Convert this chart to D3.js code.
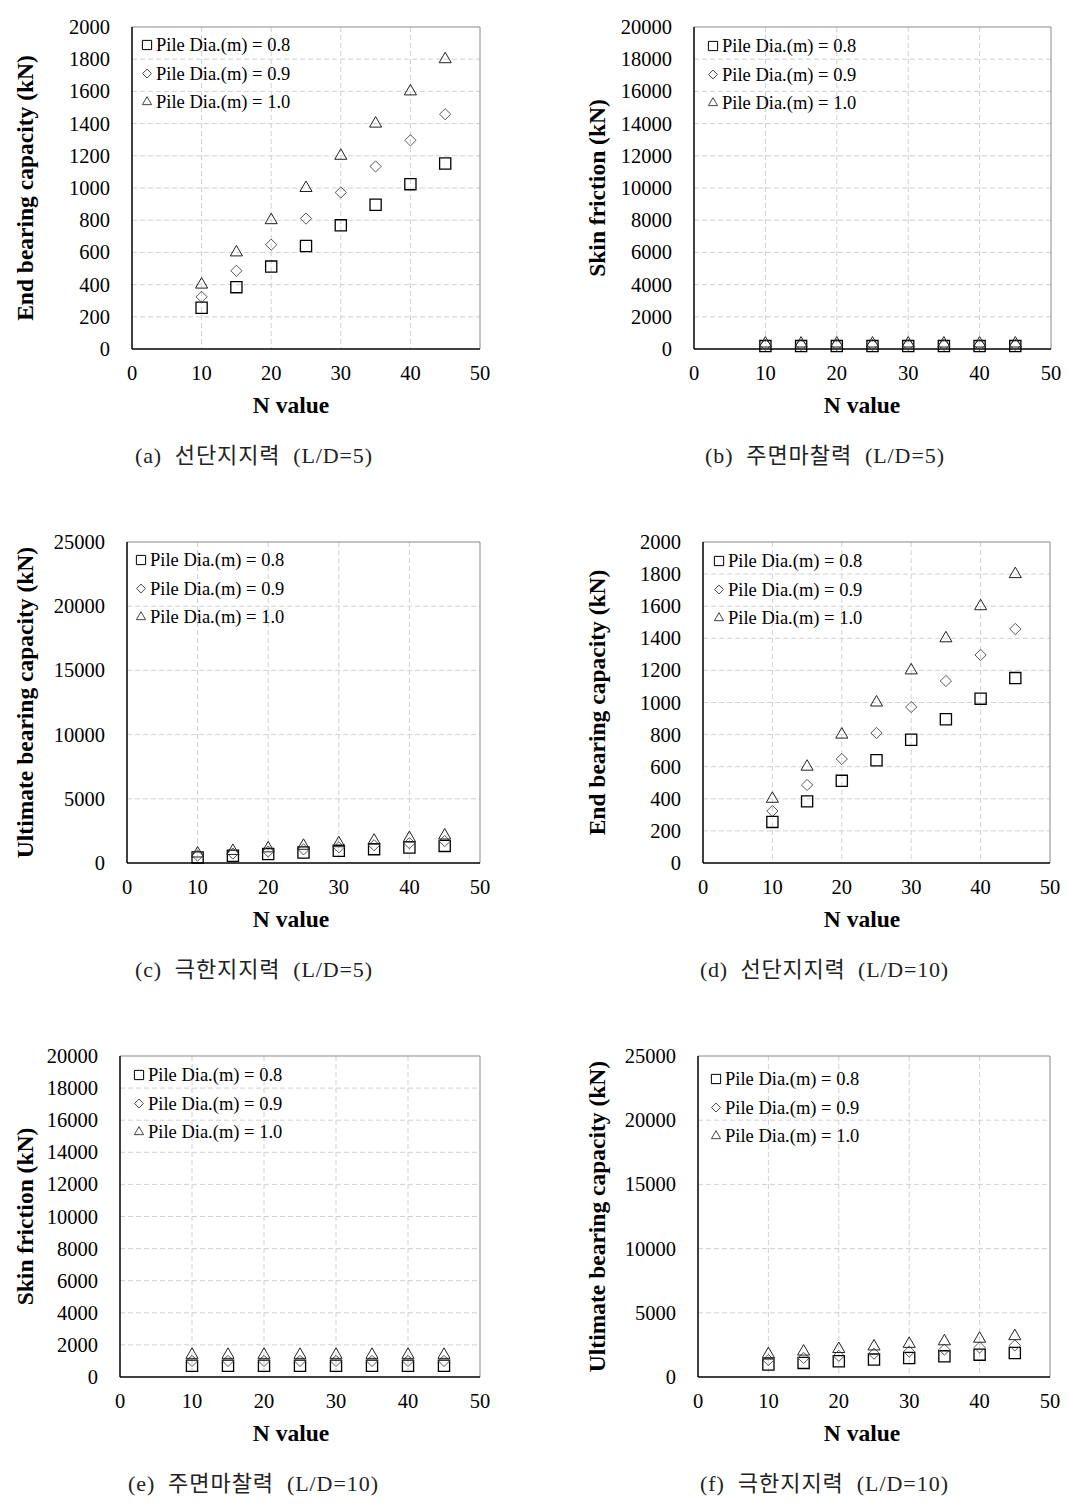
<!DOCTYPE html>
<html><head><meta charset="utf-8">
<script src="https://cdn.jsdelivr.net/npm/d3@7"></script>
<style>
body{margin:0;background:#fff;}
svg{display:block;}
</style></head>
<body>
<script>
// ---- data ----
const nValues = [10, 15, 20, 25, 30, 35, 40, 45];
const seriesLabels = ["Pile Dia.(m) = 0.8", "Pile Dia.(m) = 0.9", "Pile Dia.(m) = 1.0"];
const xTicks = [0, 10, 20, 30, 40, 50];

// End bearing capacity (same for L/D=5 and L/D=10)
const endD08 = [256, 384, 512, 640, 768, 896, 1024, 1152];
const endD09 = [324, 486, 648, 810, 972, 1134, 1296, 1458];
const endD10 = [400, 600, 800, 1000, 1200, 1400, 1600, 1800];

// Skin friction L/D=5
const skin5D08 = [180, 180, 180, 180, 180, 180, 180, 180];
const skin5D09 = [250, 250, 250, 250, 250, 250, 250, 250];
const skin5D10 = [340, 340, 340, 340, 340, 340, 340, 340];

// Ultimate L/D=5
const ult5D08 = [436, 564, 692, 820, 948, 1076, 1204, 1332];
const ult5D09 = [574, 736, 898, 1060, 1222, 1384, 1546, 1708];
const ult5D10 = [740, 940, 1140, 1340, 1540, 1740, 1940, 2140];

// Skin friction L/D=10
const skin10D08 = [700, 700, 700, 700, 700, 700, 700, 700];
const skin10D09 = [1000, 1000, 1000, 1000, 1000, 1000, 1000, 1000];
const skin10D10 = [1380, 1380, 1380, 1380, 1380, 1380, 1380, 1380];

// Ultimate L/D=10
const ult10D08 = [970, 1098, 1226, 1354, 1482, 1610, 1738, 1866];
const ult10D09 = [1324, 1486, 1648, 1810, 1972, 2134, 2296, 2458];
const ult10D10 = [1780, 1980, 2180, 2380, 2580, 2780, 2980, 3180];

const yTicks2000 = [0,200,400,600,800,1000,1200,1400,1600,1800,2000];
const yTicks20000 = [0,2000,4000,6000,8000,10000,12000,14000,16000,18000,20000];
const yTicks25000 = [0,5000,10000,15000,20000,25000];

const yTitles = ["End bearing capacity (kN)", "Skin friction (kN)", "Ultimate bearing capacity (kN)"];
const captions = ["(a) 선단지지력 (L/D=5)", "(b) 주면마찰력 (L/D=5)", "(c) 극한지지력 (L/D=5)",
                  "(d) 선단지지력 (L/D=10)", "(e) 주면마찰력 (L/D=10)", "(f) 극한지지력 (L/D=10)"];

const W = 1068, H = 1507;
const svg = d3.select("body").append("svg").attr("width", W).attr("height", H);
const SERIF = "'Liberation Serif','Times New Roman',serif";

const panels = [
  {box:[132,27,480,349], ticks:yTicks2000, data:[endD08,endD09,endD10], title:yTitles[0], titleX:25, nx:291, cap:captions[0], capX:135, capY:463, capW:237, leg:[141,45]},
  {box:[694,27,1051,349], ticks:yTicks20000, data:[skin5D08,skin5D09,skin5D10], title:yTitles[1], titleX:597, nx:862, cap:captions[1], capX:705, capY:463, capW:239, leg:[707,46]},
  {box:[127,542,480,863], ticks:yTicks25000, data:[ult5D08,ult5D09,ult5D10], title:yTitles[2], titleX:25, nx:291, cap:captions[2], capX:135, capY:977, capW:237, leg:[135,560]},
  {box:[703,542,1050,863], ticks:yTicks2000, data:[endD08,endD09,endD10], title:yTitles[0], titleX:597, nx:862, cap:captions[3], capX:700, capY:977, capW:248, leg:[713,561]},
  {box:[120,1056,480,1377], ticks:yTicks20000, data:[skin10D08,skin10D09,skin10D10], title:yTitles[1], titleX:25, nx:291, cap:captions[4], capX:128, capY:1491, capW:250, leg:[133,1075]},
  {box:[698,1056,1050,1377], ticks:yTicks25000, data:[ult10D08,ult10D09,ult10D10], title:yTitles[2], titleX:597, nx:862, cap:captions[5], capX:700, capY:1491, capW:248, leg:[710,1079]}
];

const triType = d3.symbolTriangle2 || d3.symbolTriangle;
const diaType = d3.symbolDiamond2 || d3.symbolDiamond;
const markerStyles = [
  {path: d3.symbol().type(d3.symbolSquare).size(125), stroke:"#000", sw:1.3},
  {path: d3.symbol().type(diaType).size(80), stroke:"#444", sw:0.9},
  {path: d3.symbol().type(triType).size(105), stroke:"#222", sw:1.0}
];

panels.forEach(p => {
  const [x0,y0,x1,y1] = p.box;
  const g = svg.append("g");
  const x = d3.scaleLinear().domain([0,50]).range([x0,x1]);
  const y = d3.scaleLinear().domain([0, d3.max(p.ticks)]).range([y1,y0]);

  // grid
  g.selectAll(".gx").data(xTicks.slice(1,-1)).join("line")
    .attr("x1", d=>x(d)).attr("x2", d=>x(d)).attr("y1", y0).attr("y2", y1)
    .attr("stroke","#d0d0d0").attr("stroke-dasharray","5,3").attr("stroke-width",1);
  g.selectAll(".gy").data(p.ticks.slice(1,-1)).join("line")
    .attr("x1", x0).attr("x2", x1).attr("y1", d=>y(d)).attr("y2", d=>y(d))
    .attr("stroke","#d0d0d0").attr("stroke-dasharray","5,3").attr("stroke-width",1);

  // frame
  g.append("line").attr("x1",x0).attr("x2",x1).attr("y1",y0).attr("y2",y0).attr("stroke","#888").attr("stroke-width",1);
  g.append("line").attr("x1",x1).attr("x2",x1).attr("y1",y0).attr("y2",y1).attr("stroke","#888").attr("stroke-width",1);
  g.append("line").attr("x1",x0).attr("x2",x0).attr("y1",y0).attr("y2",y1).attr("stroke","#000").attr("stroke-width",1.5);
  g.append("line").attr("x1",x0).attr("x2",x1).attr("y1",y1).attr("y2",y1).attr("stroke","#000").attr("stroke-width",1.5);

  // y tick labels
  g.selectAll(".yl").data(p.ticks).join("text")
    .attr("x", x0 - 22).attr("y", d=>y(d)+7)
    .attr("text-anchor","end").attr("font-family",SERIF).attr("font-size",20.5)
    .text(d=>d);
  // x tick labels
  g.selectAll(".xl").data(xTicks).join("text")
    .attr("x", d=>x(d)).attr("y", y1+31)
    .attr("text-anchor","middle").attr("font-family",SERIF).attr("font-size",20.5)
    .text(d=>d);

  // axis titles
  g.append("text").attr("x",p.nx).attr("y",y1+64).attr("text-anchor","middle")
    .attr("font-family",SERIF).attr("font-weight","bold").attr("font-size",23.5).text("N value");
  g.append("text").attr("transform",`translate(${p.titleX+8},${(y0+y1)/2}) rotate(-90)`)
    .attr("text-anchor","middle").attr("font-family",SERIF).attr("font-weight","bold").attr("font-size",23.5)
    .text(p.title);

  // caption
  g.append("text").attr("x",p.capX).attr("y",p.capY)
    .attr("font-family","'Liberation Serif','Noto Sans CJK KR',serif")
    .attr("font-size",22).attr("fill","#222")
    .attr("textLength", p.capW).attr("lengthAdjust","spacing")
    .style("white-space","pre").text(p.cap.replace(" ", "  ").replace(/ \(/, "  ("));

  // markers
  p.data.forEach((vals, si) => {
    const st = markerStyles[si];
    g.selectAll(".m"+si).data(vals).join("path")
      .attr("d", st.path)
      .attr("transform", (d,i)=>`translate(${x(nValues[i])},${y(d)})`)
      .attr("fill","none").attr("stroke",st.stroke).attr("stroke-width",st.sw);
  });

  // legend
  const [lx, ly] = p.leg;
  seriesLabels.forEach((lab, si) => {
    const yy = ly + si*28.5;
    const sizes = [85, 50, 60];
    const sym = [d3.symbolSquare, diaType, triType][si];
    g.append("path").attr("d", d3.symbol().type(sym).size(sizes[si]))
      .attr("transform",`translate(${lx+6},${yy})`)
      .attr("fill","none").attr("stroke", si===0?"#000":"#444").attr("stroke-width",1);
    g.append("text").attr("x",lx+15).attr("y",yy+6)
      .attr("font-family",SERIF).attr("font-size",18.5).text(lab);
  });
});
</script>
</body></html>
